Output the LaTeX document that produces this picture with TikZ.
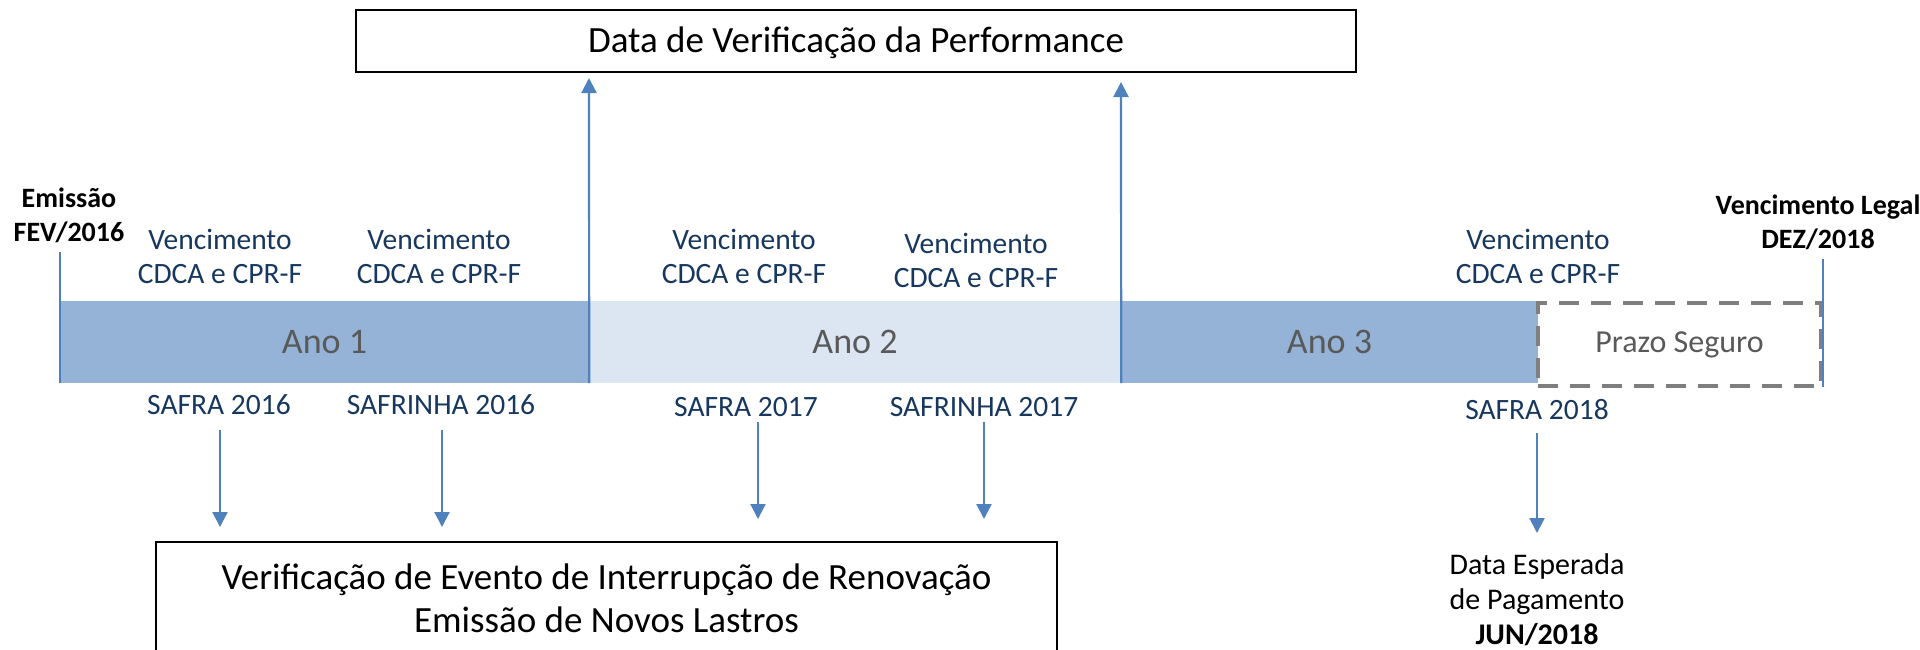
\documentclass[tikz,border=0pt]{standalone}
\usepackage{fontspec}
\setmainfont{Carlito}
\usetikzlibrary{arrows.meta}
\definecolor{barA}{HTML}{95B3D7}
\definecolor{barB}{HTML}{DCE6F2}
\definecolor{arr}{HTML}{4F81BD}
\definecolor{navy}{HTML}{17375E}
\definecolor{anotxt}{HTML}{595959}
\definecolor{dashgray}{HTML}{7F7F7F}
\begin{document}
\begin{tikzpicture}[x=1pt,y=-1pt,
  bar/.style={rectangle,inner sep=0pt,minimum height=82pt,text=anotxt,font=\fontsize{36}{43}\selectfont},
  venc/.style={align=center,text=navy,inner sep=0pt,font=\fontsize{29.5}{34}\selectfont},
  safra/.style={text=navy,inner sep=0pt,font=\fontsize{29.5}{34}\selectfont},
  boldlbl/.style={align=center,inner sep=0pt,font=\fontsize{28}{34}\selectfont\bfseries},
  boxline/.style={draw=black,line width=2.5pt,rectangle,inner sep=0pt},
  boxtxt/.style={align=center,inner sep=0pt,font=\fontsize{37}{43}\selectfont},
  blarrow/.style={draw=arr,line width=2.2pt,-{Triangle[length=15pt,width=15pt]}},
  tick/.style={draw=arr,line width=1.6pt}]
\useasboundingbox (0,0) rectangle (1920,649);

% bars
\node[bar,fill=barA,minimum width=529pt] (ano1) at (324.5,342) {Ano 1};
\node[bar,fill=barB,minimum width=532pt] (ano2) at (855,342) {Ano 2};
\node[bar,fill=barA,minimum width=417pt] (ano3) at (1329.5,342) {Ano 3};
\node[bar,draw=dashgray,line width=4pt,dash pattern=on 20pt off 12pt,minimum width=283pt,minimum height=83pt,font=\fontsize{32}{38}\selectfont,text=anotxt] (prazo) at (1679.5,344.5) {Prazo Seguro};

% boxes
\node[boxline,minimum width=1000pt,minimum height=62pt] (top) at (856,41) {};
\node[boxtxt] (toptxt) at (856,43) {Data de Verificação da Performance};
\node[boxline,minimum width=901pt,minimum height=116pt] (bot) at (606.5,600) {};
\node[boxtxt] (bottxt) at (606.5,598) {Verificação de Evento de Interrupção de Renovação\\Emissão de Novos Lastros};

% start / end ticks
\coordinate (l0) at (60,252);
\coordinate (l1) at (60,383);
\coordinate (r0) at (1823,259);
\coordinate (r1) at (1823,387);
\draw[tick] (l1) -- (l0);
\draw[tick] (r1) -- (r0);

\node[boldlbl] (emi) at (69,215) {Emissão\\FEV/2016};
\node[boldlbl] (leg) at (1818,222) {Vencimento Legal\\DEZ/2018};

% vencimento labels
\node[venc] (v1) at (220,256) {Vencimento\\CDCA e CPR-F};
\node[venc] (v2) at (439,256) {Vencimento\\CDCA e CPR-F};
\node[venc] (v3) at (744,256) {Vencimento\\CDCA e CPR-F};
\node[venc] (v4) at (976,260) {Vencimento\\CDCA e CPR-F};
\node[venc] (v5) at (1538,256) {Vencimento\\CDCA e CPR-F};

% safra labels
\node[safra] (s1) at (219,405) {SAFRA 2016};
\node[safra] (s2) at (441,405) {SAFRINHA 2016};
\node[safra] (s3) at (746,407) {SAFRA 2017};
\node[safra] (s4) at (984,407) {SAFRINHA 2017};
\node[safra] (s5) at (1537,410) {SAFRA 2018};

\node[align=center,inner sep=0pt,font=\fontsize{30}{35}\selectfont] (pag) at (1537,600) {Data Esperada\\de Pagamento\\\textbf{JUN/2018}};

% up arrows
\coordinate (u1) at (589,78);
\coordinate (u2) at (1121,82);
\draw[blarrow] (ano1.south east) -- (u1);
\draw[blarrow] (ano2.south east) -- (u2);

% down arrows
\coordinate (a1) at (220,430); \coordinate (b1) at (220,527);
\coordinate (a2) at (442,430); \coordinate (b2) at (442,527);
\coordinate (a3) at (758,422); \coordinate (b3) at (758,519);
\coordinate (a4) at (984,422); \coordinate (b4) at (984,519);
\coordinate (a5) at (1537,433); \coordinate (b5) at (1537,533);
\draw[blarrow] (a1) -- (b1);
\draw[blarrow] (a2) -- (b2);
\draw[blarrow] (a3) -- (b3);
\draw[blarrow] (a4) -- (b4);
\draw[blarrow] (a5) -- (b5);
\end{tikzpicture}
\end{document}
